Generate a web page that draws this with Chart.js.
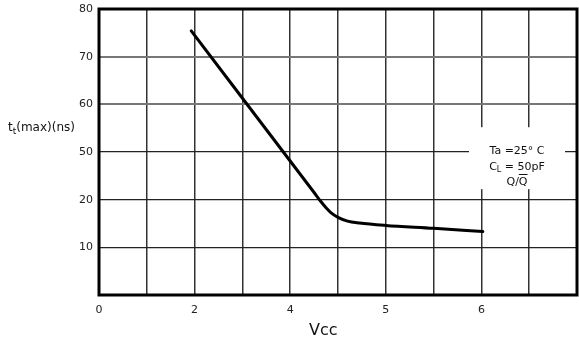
<!DOCTYPE html>
<html>
<head>
<meta charset="UTF-8" />
<title>tt(max) vs Vcc</title>
<style>
  html, body { margin: 0; padding: 0; background: #fff; }
  #wrap { width: 579px; height: 353px; }
</style>
</head>
<body>
<div id="wrap"><canvas id="chart" width="579" height="353"></canvas></div>
<script src="https://cdn.jsdelivr.net/npm/chart.js"></script>
<script>
  // grid units: 10 columns, 6 rows; the printed labels are not linear
  const xTickPos = [0, 2, 4, 6, 8];
  const xTickText = ["0", "2", "4", "5", "6"];
  const yTickPos = [1, 2, 3, 4, 5, 6];
  const yTickText = ["10", "20", "50", "60", "70", "80"];

  // curve, in grid units
  const curveX = [1.93, 4.50, 4.65, 4.75, 4.85, 5.00, 5.20, 5.45, 6.00, 7.00, 8.03];
  const curveY = [5.54, 2.15, 1.95, 1.83, 1.73, 1.63, 1.55, 1.51, 1.46, 1.40, 1.33];

  const noteLines = ["Ta =25° C", "C_L = 50pF", "Q/Q"];
  const font = "DejaVu Sans";

  const points = curveX.map((x, i) => ({ x: x, y: curveY[i] }));

  const extras = {
    id: "extras",
    beforeDatasetsDraw(chart) {
      const c = chart.ctx, xs = chart.scales.x, ys = chart.scales.y;
      // white box for the conditions note
      const l = xs.getPixelForValue(7.74), r = xs.getPixelForValue(9.75);
      const t = ys.getPixelForValue(3.52), b = ys.getPixelForValue(2.22);
      c.save();
      c.fillStyle = "#fff";
      c.fillRect(l, t, r - l, b - t);
      c.restore();
    },
    afterDraw(chart) {
      const c = chart.ctx, a = chart.chartArea, xs = chart.scales.x;
      c.save();
      // heavy frame
      c.strokeStyle = "#000";
      c.lineWidth = 3;
      c.strokeRect(a.left, a.top, a.right - a.left, a.bottom - a.top);

      c.fillStyle = "#111";
      c.textBaseline = "middle";

      // y title with subscript
      c.font = "12px '" + font + "'";
      c.textAlign = "left";
      let x0 = 8, yt = 128;
      c.fillText("t", x0, yt);
      x0 += c.measureText("t").width;
      c.font = "9px '" + font + "'";
      c.fillText("t", x0, yt + 4);
      x0 += c.measureText("t").width;
      c.font = "12px '" + font + "'";
      c.fillText("(max)(ns)", x0, yt);

      // x title
      c.font = "16px '" + font + "'";
      c.textAlign = "left";
      c.fillText("Vcc", 309, 331);

      // note text
      const cx = (xs.getPixelForValue(7.74) + xs.getPixelForValue(9.75)) / 2;
      c.font = "11px '" + font + "'";
      c.textAlign = "center";
      c.fillText(noteLines[0], cx, 151);
      // C with subscript L
      const cl = "C", rest = " = 50pF";
      const w1 = c.measureText(cl).width, w3 = c.measureText(rest).width;
      c.font = "8px '" + font + "'";
      const w2 = c.measureText("L").width;
      let sx = cx - (w1 + w2 + w3) / 2;
      c.textAlign = "left";
      c.font = "11px '" + font + "'";
      c.fillText(cl, sx, 167);
      c.font = "8px '" + font + "'";
      c.fillText("L", sx + w1, 170);
      c.font = "11px '" + font + "'";
      c.fillText(rest, sx + w1 + w2, 167);
      // Q / Q-bar
      c.textAlign = "center";
      c.fillText(noteLines[2], cx, 182);
      const qw = c.measureText(noteLines[2]).width, q1 = c.measureText("Q").width;
      c.strokeStyle = "#111";
      c.lineWidth = 1;
      c.beginPath();
      c.moveTo(cx + qw / 2 - q1, 174.5);
      c.lineTo(cx + qw / 2, 174.5);
      c.stroke();
      c.restore();
    }
  };

  new Chart(document.getElementById("chart"), {
    type: "line",
    data: {
      datasets: [{
        data: points,
        borderColor: "#000",
        borderWidth: 3,
        pointRadius: 0,
        fill: false,
        cubicInterpolationMode: "monotone",
        borderCapStyle: "round"
      }]
    },
    options: {
      responsive: false,
      animation: false,
      events: [],
      layout: { padding: { top: 9, right: 2, left: 0, bottom: 0 } },
      plugins: { legend: { display: false }, tooltip: { enabled: false } },
      scales: {
        x: {
          type: "linear",
          min: 0, max: 10,
          afterFit: s => { s.height = 58; s.paddingLeft = 0; s.paddingRight = 0; },
          afterBuildTicks: s => { s.ticks = Array.from({ length: 11 }, (_, i) => ({ value: i })); },
          ticks: {
            autoSkip: false,
            maxRotation: 0,
            padding: 9,
            color: "#222",
            font: { family: font, size: 11 },
            callback: v => { const i = xTickPos.indexOf(v); return i < 0 ? "" : xTickText[i]; }
          },
          grid: { color: "#333", lineWidth: 1.5, drawTicks: false },
          border: { display: false }
        },
        y: {
          type: "linear",
          min: 0, max: 6,
          afterFit: s => { s.width = 99; s.paddingTop = 0; s.paddingBottom = 0; },
          afterBuildTicks: s => { s.ticks = Array.from({ length: 7 }, (_, i) => ({ value: i })); },
          ticks: {
            autoSkip: false,
            padding: 6,
            color: "#222",
            font: { family: font, size: 11 },
            callback: v => { const i = yTickPos.indexOf(v); return i < 0 ? "" : yTickText[i]; }
          },
          grid: {
            drawTicks: false,
            color: ctx => (ctx.tick && (ctx.tick.value === 4 || ctx.tick.value === 5)) ? "#777" : "#222",
            lineWidth: ctx => (ctx.tick && (ctx.tick.value === 4 || ctx.tick.value === 5)) ? 2 : 1.2
          },
          border: { display: false }
        }
      }
    },
    plugins: [extras]
  });
</script>
</body>
</html>
